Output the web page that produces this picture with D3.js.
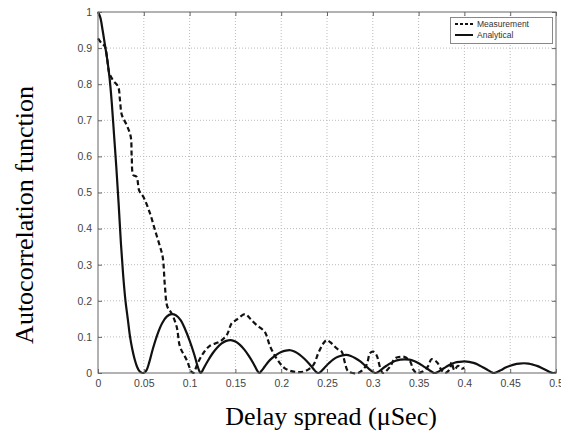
<!DOCTYPE html>
<html>
<head>
<meta charset="utf-8">
<script src="https://cdn.jsdelivr.net/npm/d3@7"></script>
<style>
  body { margin: 0; background: #fff; }
  .tick-label { font-family: "Liberation Sans", Arial, sans-serif; font-size: 10.5px; fill: #444; }
  .axis-title { font-family: "Liberation Serif", "Times New Roman", serif; font-size: 26px; fill: #000; }
  .legend-text { font-family: "Liberation Sans", Arial, sans-serif; font-size: 8.5px; fill: #333; }
</style>
</head>
<body>
<div class="vis"></div>
<script>
// tick labels
var xTicks = [0, 0.05, 0.1, 0.15, 0.2, 0.25, 0.3, 0.35, 0.4, 0.45, 0.5];
var yTicks = [0, 0.1, 0.2, 0.3, 0.4, 0.5, 0.6, 0.7, 0.8, 0.9, 1];
var seriesNames = ["Measurement", "Analytical"];

// measured autocorrelation, [delay (uSec), value]
var measurement = [
  [0, 0.927], [0.004, 0.913], [0.0076, 0.904], [0.01, 0.87], [0.0124, 0.83],
  [0.0167, 0.81], [0.022, 0.793], [0.024, 0.756], [0.026, 0.715], [0.0313, 0.687],
  [0.0357, 0.655], [0.0368, 0.6], [0.0386, 0.548], [0.042, 0.544], [0.045, 0.505],
  [0.0495, 0.488], [0.0568, 0.442], [0.0622, 0.396], [0.0677, 0.35], [0.0706, 0.322],
  [0.0731, 0.239], [0.0757, 0.184], [0.0804, 0.165], [0.0859, 0.128], [0.0895, 0.073],
  [0.0968, 0.036], [0.102, 0.004], [0.104, 0.0], [0.1095, 0.031], [0.115, 0.055],
  [0.122, 0.075], [0.133, 0.087], [0.1405, 0.105], [0.146, 0.138], [0.151, 0.147],
  [0.1605, 0.163], [0.166, 0.151], [0.173, 0.133], [0.182, 0.114], [0.188, 0.073],
  [0.195, 0.04], [0.204, 0.013], [0.215, 0.003], [0.226, 0.005], [0.235, 0.022],
  [0.2405, 0.055], [0.246, 0.082], [0.2497, 0.091], [0.255, 0.082], [0.2606, 0.068],
  [0.266, 0.059], [0.2697, 0.027], [0.273, 0.005], [0.284, 0], [0.293, 0.022],
  [0.297, 0.055], [0.3005, 0.059], [0.304, 0.05], [0.308, 0.015], [0.311, 0],
  [0.319, 0.018], [0.324, 0.04], [0.33, 0.045], [0.335, 0.044], [0.341, 0.031],
  [0.344, 0.01], [0.348, 0], [0.355, 0.005], [0.3606, 0.02], [0.364, 0.038],
  [0.37, 0.03], [0.375, 0.008], [0.379, 0.0], [0.384, 0.01], [0.386, 0.03],
  [0.389, 0.008], [0.393, 0.02], [0.397, 0.012], [0.4, 0.015]
];

// analytical autocorrelation, [delay (uSec), value]
var analytical = [
  [0, 1.0], [0.0025, 0.985], [0.005, 0.95], [0.0075, 0.91], [0.01, 0.87],
  [0.0125, 0.82], [0.015, 0.75], [0.0175, 0.66], [0.02, 0.57], [0.0225, 0.47],
  [0.025, 0.36], [0.0275, 0.27], [0.03, 0.2], [0.0325, 0.15], [0.035, 0.1],
  [0.0375, 0.065], [0.04, 0.038], [0.0425, 0.018], [0.045, 0.006], [0.0475, 0.001],
  [0.049, 0.0], [0.0505, 0.001], [0.053, 0.008], [0.056, 0.03], [0.06, 0.068],
  [0.065, 0.108], [0.07, 0.138], [0.075, 0.156], [0.08, 0.163], [0.085, 0.16],
  [0.09, 0.147], [0.095, 0.122], [0.1, 0.09], [0.105, 0.052], [0.108, 0.025],
  [0.1105, 0.006], [0.112, 0.0], [0.1135, 0.004], [0.116, 0.016], [0.12, 0.034],
  [0.125, 0.054], [0.13, 0.07], [0.135, 0.082], [0.14, 0.089], [0.145, 0.091],
  [0.15, 0.087], [0.155, 0.078], [0.16, 0.064], [0.165, 0.046], [0.17, 0.025],
  [0.1735, 0.008], [0.176, 0.0], [0.1785, 0.006], [0.182, 0.018], [0.186, 0.031],
  [0.19, 0.041], [0.195, 0.051], [0.2, 0.058], [0.205, 0.062], [0.21, 0.063],
  [0.215, 0.059], [0.22, 0.051], [0.225, 0.04], [0.23, 0.027], [0.235, 0.012],
  [0.238, 0.003], [0.2405, 0.0], [0.243, 0.003], [0.247, 0.014], [0.252, 0.027],
  [0.257, 0.038], [0.262, 0.045], [0.267, 0.049], [0.271, 0.05], [0.276, 0.047],
  [0.281, 0.041], [0.286, 0.033], [0.291, 0.022], [0.296, 0.011], [0.3, 0.003],
  [0.303, 0.0], [0.306, 0.003], [0.31, 0.011], [0.315, 0.02], [0.32, 0.028],
  [0.325, 0.034], [0.33, 0.037], [0.335, 0.038], [0.34, 0.037], [0.345, 0.033],
  [0.35, 0.027], [0.355, 0.019], [0.36, 0.011], [0.364, 0.004], [0.3675, 0.0],
  [0.371, 0.003], [0.375, 0.009], [0.38, 0.017], [0.385, 0.024], [0.39, 0.029],
  [0.395, 0.031], [0.4, 0.032], [0.405, 0.031], [0.41, 0.028], [0.415, 0.023],
  [0.42, 0.016], [0.425, 0.009], [0.429, 0.003], [0.432, 0.0], [0.435, 0.002],
  [0.44, 0.008], [0.445, 0.015], [0.45, 0.02], [0.455, 0.024], [0.46, 0.026],
  [0.465, 0.027], [0.47, 0.026], [0.475, 0.023], [0.48, 0.019], [0.485, 0.013],
  [0.49, 0.007], [0.494, 0.002], [0.497, 0.0], [0.5, 0.001]
];

var chart = {

  hold: {},

  setUp: function(){
    chart.hold.margin = {left: 98, right: 5, top: 12, bottom: 63};
    chart.hold.width = 561;
    chart.hold.height = 436;

    var m = chart.hold.margin;
    chart.hold.x = d3.scaleLinear().domain([0, 0.5]).range([m.left, chart.hold.width - m.right]);
    chart.hold.y = d3.scaleLinear().domain([0, 1]).range([chart.hold.height - m.bottom, m.top]);

    chart.hold.svg = d3.select(".vis")
      .append("svg")
        .attr("width", chart.hold.width)
        .attr("height", chart.hold.height)
        .style("display", "block");

    chart.drawGrid();
    chart.drawLines();
    chart.drawFrame();
    chart.drawLegend();
    chart.drawTitles();
  },

  drawGrid: function(){
    var x = chart.hold.x, y = chart.hold.y, svg = chart.hold.svg;
    var g = svg.append("g").attr("class", "grid");

    g.selectAll("line.vgrid")
      .data(xTicks.slice(1, -1))
      .enter()
      .append("line")
        .attr("x1", function(d){ return x(d); })
        .attr("x2", function(d){ return x(d); })
        .attr("y1", y(0))
        .attr("y2", y(1))
        .attr("stroke", "#bbb")
        .attr("stroke-dasharray", "1,2");

    g.selectAll("line.hgrid")
      .data(yTicks.slice(1, -1))
      .enter()
      .append("line")
        .attr("x1", x(0))
        .attr("x2", x(0.5))
        .attr("y1", function(d){ return y(d); })
        .attr("y2", function(d){ return y(d); })
        .attr("stroke", "#bbb")
        .attr("stroke-dasharray", "1,2");
  },

  drawLines: function(){
    var x = chart.hold.x, y = chart.hold.y, svg = chart.hold.svg;

    var lineSmooth = d3.line()
      .x(function(d){ return x(d[0]); })
      .y(function(d){ return y(d[1]); })
      .curve(d3.curveCatmullRom.alpha(0.5));

    var lineRough = d3.line()
      .x(function(d){ return x(d[0]); })
      .y(function(d){ return y(d[1]); })
      .curve(d3.curveCatmullRom.alpha(0.5));

    svg.append("path")
      .datum(analytical)
      .attr("d", lineSmooth)
      .attr("fill", "none")
      .attr("stroke", "#111")
      .attr("stroke-width", 2.2);

    svg.append("path")
      .datum(measurement)
      .attr("d", lineRough)
      .attr("fill", "none")
      .attr("stroke", "#111")
      .attr("stroke-width", 2.2)
      .attr("stroke-dasharray", "5,3");
  },

  drawFrame: function(){
    var x = chart.hold.x, y = chart.hold.y, svg = chart.hold.svg;

    svg.append("rect")
      .attr("x", x(0))
      .attr("y", y(1))
      .attr("width", x(0.5) - x(0))
      .attr("height", y(0) - y(1))
      .attr("fill", "none")
      .attr("stroke", "#666")
      .attr("stroke-width", 1);

    // matlab style inward ticks on every side
    var xAxisB = d3.axisBottom(x).tickValues(xTicks).tickSizeInner(-4).tickSizeOuter(0).tickPadding(7)
      .tickFormat(function(d){ return d3.format("")(d); });
    var xAxisT = d3.axisTop(x).tickValues(xTicks).tickSizeInner(-4).tickSizeOuter(0).tickFormat("");
    var yAxisL = d3.axisLeft(y).tickValues(yTicks).tickSizeInner(-4).tickSizeOuter(0).tickPadding(6)
      .tickFormat(function(d){ return d3.format("")(d); });
    var yAxisR = d3.axisRight(y).tickValues(yTicks).tickSizeInner(-4).tickSizeOuter(0).tickFormat("");

    svg.append("g").attr("transform", "translate(0," + y(0) + ")").call(xAxisB);
    svg.append("g").attr("transform", "translate(0," + y(1) + ")").call(xAxisT);
    svg.append("g").attr("transform", "translate(" + x(0) + ",0)").call(yAxisL);
    svg.append("g").attr("transform", "translate(" + x(0.5) + ",0)").call(yAxisR);

    svg.selectAll(".domain").remove();
    svg.selectAll(".tick line").attr("stroke", "#666");
    svg.selectAll(".tick text").attr("class", "tick-label").attr("fill", null).attr("font-family", null).attr("font-size", null);
  },

  drawLegend: function(){
    var svg = chart.hold.svg;
    var lg = svg.append("g").attr("class", "legend");

    lg.append("rect")
      .attr("x", 450.5)
      .attr("y", 17.5)
      .attr("width", 102)
      .attr("height", 26)
      .attr("fill", "#fff")
      .attr("stroke", "#888");

    var rows = lg.selectAll("g.row")
      .data(seriesNames)
      .enter()
      .append("g")
        .attr("class", "row")
        .attr("transform", function(d, i){ return "translate(455," + (24 + i * 11) + ")"; });

    rows.append("line")
      .attr("x1", 0)
      .attr("x2", 18)
      .attr("stroke", "#111")
      .attr("stroke-width", 2)
      .attr("stroke-dasharray", function(d, i){ return i === 0 ? "3,2" : null; });

    rows.append("text")
      .attr("class", "legend-text")
      .attr("x", 22)
      .attr("dy", "0.35em")
      .text(function(d){ return d; });
  },

  drawTitles: function(){
    var svg = chart.hold.svg;

    svg.append("text")
      .attr("class", "axis-title")
      .attr("text-anchor", "middle")
      .attr("transform", "translate(33,215) rotate(-90)")
      .text("Autocorrelation function");

    svg.append("text")
      .attr("class", "axis-title")
      .attr("text-anchor", "middle")
      .attr("x", 331)
      .attr("y", 425)
      .text("Delay spread (\u03bcSec)");
  }

};

chart.setUp();
</script>
</body>
</html>
